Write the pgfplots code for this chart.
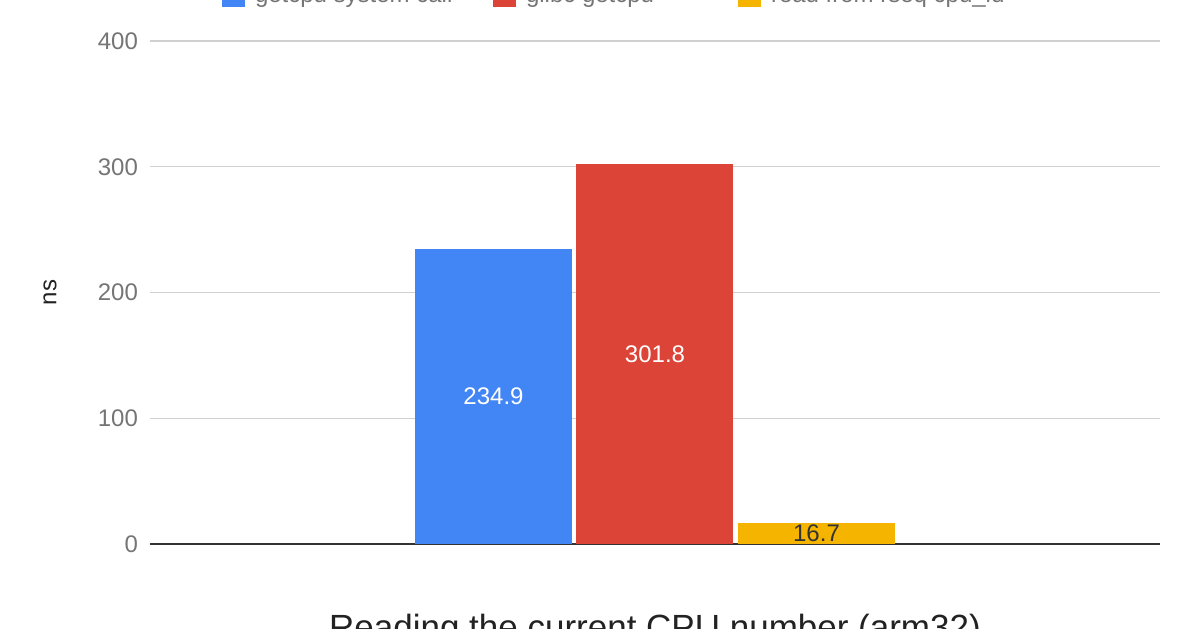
\documentclass[border=0pt]{standalone}
\usepackage{pgfplots}
\pgfplotsset{compat=1.18}
\usepackage{fontspec}
\setmainfont{Liberation Sans}
\definecolor{gblue}{HTML}{4285F4}
\definecolor{gred}{HTML}{DB4437}
\definecolor{gyellow}{HTML}{F4B400}
\definecolor{tickgray}{HTML}{757575}
\definecolor{gridgray}{HTML}{D0D0D0}
\definecolor{basegray}{HTML}{333333}
\definecolor{titlegray}{HTML}{222222}
\begin{document}
\begin{tikzpicture}
\useasboundingbox (-75pt,-42pt) rectangle (523pt,272pt);
\begin{axis}[
  at={(0pt,0pt)}, anchor=south west,
  scale only axis, width=505pt, height=251.5pt,
  xmin=-1, xmax=1, ymin=0, ymax=400,
  clip=false,
  ybar, bar width=78.5pt,
  axis y line*=left,
  y axis line style={draw=none},
  axis x line*=bottom,
  x axis line style={basegray, line width=1pt},
  xtick=\empty,
  ytick={0,100,200,300,400},
  ymajorgrids, grid style={gridgray, line width=0.7pt},
  major tick length=0pt,
  /pgf/number format/assume math mode=true,
  yticklabel style={font=\fontsize{12}{14}\selectfont, text=tickgray, xshift=-2.5pt},
  ylabel={ns},
  ylabel style={at={(axis description cs:0,0.5)}, anchor=center, yshift=50pt,
    font=\fontsize{12}{14}\selectfont, text=titlegray},
  title={Reading the current CPU number (arm32)},
  title style={at={(axis description cs:0.5,0)}, anchor=base, yshift=-53.5pt,
    font=\fontsize{17.5}{20}\selectfont, text=titlegray},
  visualization depends on={rawy \as \rawy},
  nodes near coords,
  every node near coord/.append style={anchor=center, yshift={-\rawy*0.314375pt},
    font=\fontsize{12}{14}\selectfont},
  legend columns=-1,
  legend cell align=left,
  legend image code/.code={\draw[#1,draw=none] (0pt,-5.75pt) rectangle (11.5pt,5.75pt);},
  legend style={at={(0.0713,1.0905)}, anchor=west, draw=none, fill=none,
    inner sep=0pt, outer sep=0pt,
    nodes={inner sep=0pt, text=tickgray, font=\fontsize{12}{14}\selectfont},
    /tikz/every odd column/.style={column sep=5pt},
    /tikz/every even column/.style={column sep=0pt}},
]
\addplot[fill=gblue, draw=none, bar shift=-80.75pt,
  every node near coord/.append style={text=white}] coordinates {(0,234.9)};
\addlegendentry{\makebox[119pt][l]{getcpu system call}}
\addplot[fill=gred, draw=none, bar shift=0pt,
  every node near coord/.append style={text=white}] coordinates {(0,301.8)};
\addlegendentry{\makebox[106pt][l]{glibc getcpu}}
\addplot[fill=gyellow, draw=none, bar shift=80.75pt,
  every node near coord/.append style={text=basegray}] coordinates {(0,16.7)};
\addlegendentry{read from rseq cpu\_id}
\end{axis}
\end{tikzpicture}
\end{document}
